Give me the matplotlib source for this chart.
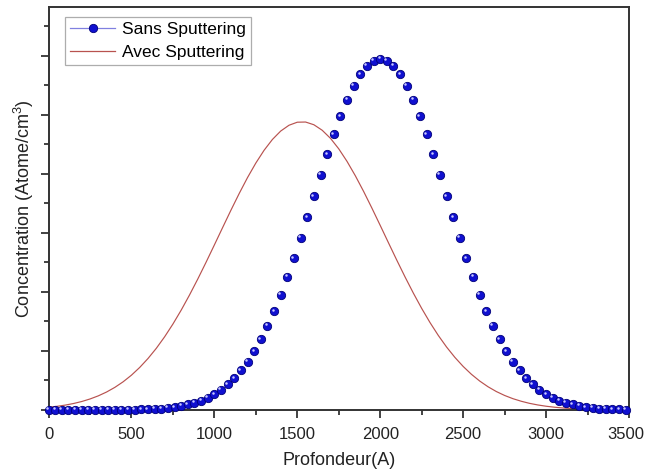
import matplotlib
matplotlib.use("Agg")
import matplotlib.pyplot as plt
from matplotlib.lines import Line2D
from matplotlib.ticker import MultipleLocator, NullFormatter
import matplotlib.transforms as mtransforms

plt.rcParams['font.family'] = ['Liberation Sans', 'DejaVu Sans']
plt.rcParams['mathtext.default'] = 'regular'

# Sans Sputtering (dots)
sans_x = [0, 40, 80, 120, 160, 200, 240, 280, 320, 360, 400, 440, 480, 520, 560, 600,
          640, 680, 720, 760, 800, 840, 880, 920, 960, 1000, 1040, 1080, 1120, 1160,
          1200, 1240, 1280, 1320, 1360, 1400, 1440, 1480, 1520, 1560, 1600, 1640, 1680,
          1720, 1760, 1800, 1840, 1880, 1920, 1960, 2000, 2040, 2080, 2120, 2160, 2200,
          2240, 2280, 2320, 2360, 2400, 2440, 2480, 2520, 2560, 2600, 2640, 2680, 2720,
          2760, 2800, 2840, 2880, 2920, 2960, 3000, 3040, 3080, 3120, 3160, 3200, 3240,
          3280, 3320, 3360, 3400, 3440, 3480]
sans_y = [0.00, 0.00, 0.00, 0.00, 0.00, 0.00, 0.00, 0.00, 0.00, 0.00, 0.00, 0.01, 0.01,
          0.01, 0.02, 0.03, 0.04, 0.05, 0.07, 0.10, 0.14, 0.19, 0.25, 0.32, 0.42, 0.54,
          0.69, 0.87, 1.08, 1.34, 1.64, 1.99, 2.39, 2.85, 3.35, 3.91, 4.51, 5.15, 5.83,
          6.54, 7.25, 7.97, 8.67, 9.34, 9.96, 10.51, 10.99, 11.38, 11.67, 11.84, 11.90,
          11.84, 11.67, 11.38, 10.99, 10.51, 9.96, 9.34, 8.67, 7.97, 7.25, 6.54, 5.83,
          5.15, 4.51, 3.91, 3.35, 2.85, 2.39, 1.99, 1.64, 1.34, 1.08, 0.87, 0.69, 0.54,
          0.42, 0.32, 0.25, 0.19, 0.14, 0.10, 0.07, 0.05, 0.04, 0.03, 0.02, 0.01]

# Avec Sputtering (line)
avec_x = [0, 50, 100, 150, 200, 250, 300, 350, 400, 450, 500, 550, 600, 650, 700, 750,
          800, 850, 900, 950, 1000, 1050, 1100, 1150, 1200, 1250, 1300, 1350, 1400, 1450,
          1500, 1550, 1600, 1650, 1700, 1750, 1800, 1850, 1900, 1950, 2000, 2050, 2100,
          2150, 2200, 2250, 2300, 2350, 2400, 2450, 2500, 2550, 2600, 2650, 2700, 2750,
          2800, 2850, 2900, 2950, 3000, 3050, 3100, 3150, 3200, 3250, 3300, 3350, 3400,
          3450, 3500]
avec_y = [0.092, 0.124, 0.165, 0.219, 0.287, 0.373, 0.479, 0.609, 0.767, 0.956, 1.180,
          1.443, 1.746, 2.091, 2.480, 2.912, 3.385, 3.896, 4.439, 5.008, 5.594, 6.186,
          6.773, 7.341, 7.879, 8.370, 8.805, 9.170, 9.455, 9.652, 9.755, 9.761, 9.669,
          9.483, 9.209, 8.853, 8.426, 7.940, 7.408, 6.842, 6.257, 5.665, 5.078, 4.507,
          3.960, 3.444, 2.966, 2.529, 2.135, 1.785, 1.477, 1.210, 0.981, 0.788, 0.626,
          0.493, 0.384, 0.297, 0.226, 0.171, 0.128, 0.095, 0.070, 0.051, 0.036, 0.026,
          0.018, 0.013, 0.009, 0.006, 0.004]

x_ticks = [0, 500, 1000, 1500, 2000, 2500, 3000, 3500]

W, H = 646, 470
fig = plt.figure(figsize=(W / 100, H / 100), dpi=100)
ax = fig.add_axes([48.5 / W, 1 - 410 / H, (629 - 48.5) / W, (410 - 7) / H])

red = '#b8524f'
blue = '#1010d0'

ax.plot(avec_x, avec_y, color=red, lw=0.85, zorder=2)
ax.plot(sans_x, sans_y, linestyle='none', marker='o', ms=6.0, mfc=blue,
        mec='#00007a', mew=0.6, zorder=3, clip_on=False)
# glossy highlight
off = mtransforms.ScaledTranslation(-1.1 / 72, 1.1 / 72, fig.dpi_scale_trans)
ax.plot(sans_x, sans_y, linestyle='none', marker='o', ms=1.8, mfc='#c8c8ff',
        mec='none', zorder=4, clip_on=False, transform=ax.transData + off)

ax.set_xlim(0, 3500)
ax.set_ylim(0, 13.66)
ax.set_xticks(x_ticks)
ax.xaxis.set_minor_locator(MultipleLocator(250))
ax.yaxis.set_major_locator(MultipleLocator(2))
ax.yaxis.set_minor_locator(MultipleLocator(1))
ax.yaxis.set_major_formatter(NullFormatter())
ax.tick_params(axis='both', which='major', direction='out', length=6, width=1.2,
               labelsize=12, colors='#222222', labelcolor='#222222')
ax.tick_params(axis='both', which='minor', direction='out', length=3.5, width=1.2,
               colors='#222222')
ax.tick_params(axis='x', pad=6)
for s in ax.spines.values():
    s.set_linewidth(1.4)
    s.set_color('#333333')

# keep the last tick label inside the canvas
last = ax.get_xticklabels()[-1]
last.set_transform(last.get_transform() +
                   mtransforms.ScaledTranslation(-2.5 / 72, 0, fig.dpi_scale_trans))

ax.set_xlabel('Profondeur(A)', fontsize=13, color='#222222')
ax.xaxis.set_label_coords(0.5, -0.105)
ax.set_ylabel('Concentration (Atome/cm$^{3}$)', fontsize=13, color='#222222')
ax.yaxis.set_label_coords(-0.022, 0.50)

h1 = Line2D([], [], color='#8080e0', lw=0.9, marker='o', ms=6.0, mfc=blue,
            mec='#00007a', mew=0.6)
h2 = Line2D([], [], color=red, lw=0.9)
leg = ax.legend([h1, h2], ['Sans Sputtering', 'Avec Sputtering'], loc='upper left',
                bbox_to_anchor=(0.022, 0.985), fontsize=12.5, frameon=True, fancybox=False,
                edgecolor='#999999', handlelength=2.6, handletextpad=0.4,
                borderpad=0.3, labelspacing=0.45, borderaxespad=0.2)
leg.get_frame().set_linewidth(0.9)

fig.savefig('out.png', dpi=100)
